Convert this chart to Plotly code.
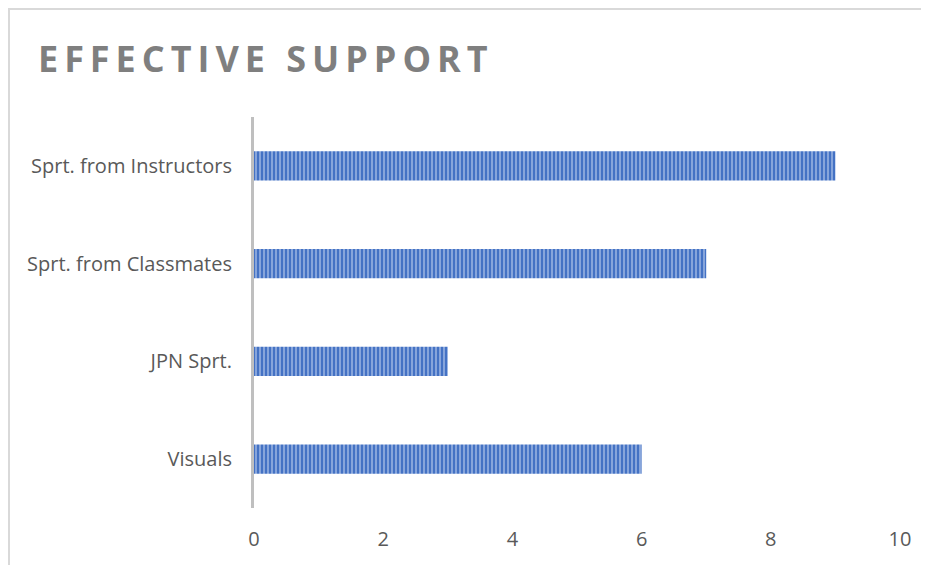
import plotly.graph_objects as go

categories = ["Visuals", "JPN Sprt.", "Sprt. from Classmates", "Sprt. from Instructors"]
values = [6, 3, 7, 9]
x_ticks = [0, 2, 4, 6, 8, 10]
title_text = "EFFECTIVE SUPPORT"

OFF = 8  # default page body margin
W, H = 929 - OFF, 565 - OFF
L = 254 - OFF
T = 117 - OFF
R = W - (900 - OFF)
B = H - (508 - OFF)
pw = W - L - R
ph = H - T - B

spaced_title = "\u2009".join(title_text)

fig = go.Figure(go.Bar(
    y=categories, x=values, orientation="h", width=0.3,
    marker=dict(
        color="#4472C4",
        line=dict(width=0),
        pattern=dict(shape="|", fillmode="overlay", fgcolor="#c9d8f1",
                     size=4, solidity=0.5),
    ),
))

fig.update_layout(
    width=W, height=H,
    margin=dict(l=L, r=R, t=T, b=B),
    paper_bgcolor="white", plot_bgcolor="white",
    showlegend=False,
    title=dict(text="<b>" + spaced_title + "</b>", x=(38 - OFF) / W, xanchor="left",
               y=1 - (59 - OFF) / H, yanchor="middle",
               font=dict(family="Open Sans", size=36, color="#7f7f7f")),
    font=dict(family="Open Sans", size=20, color="#595959"),
    xaxis=dict(range=[0, 10], tickvals=x_ticks, showgrid=False, zeroline=False,
               showline=False, ticks="", ticklabelstandoff=17,
               tickfont=dict(size=20, color="#595959")),
    yaxis=dict(categoryorder="array", categoryarray=categories, showgrid=False,
               zeroline=False, showline=True, linecolor="#bfbfbf", linewidth=3,
               ticks="", ticklabelstandoff=15,
               tickfont=dict(size=20, color="#595959")),
    shapes=[dict(type="rect", xref="paper", yref="paper",
                 x0=(1 - L) / pw, x1=(W + 10 - L) / pw,
                 y0=(-(B + 10)) / ph, y1=(ph + T - 1) / ph,
                 line=dict(color="#d9d9d9", width=2), fillcolor="rgba(0,0,0,0)",
                 layer="below")],
)

fig.write_html("out.html")
